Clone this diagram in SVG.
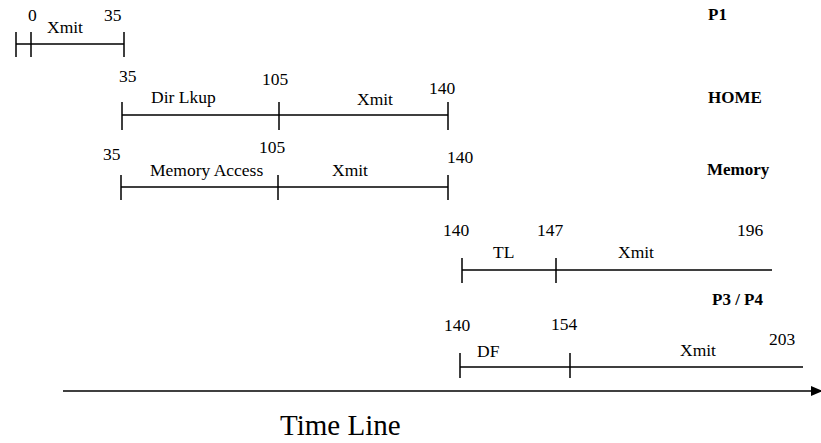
<svg xmlns="http://www.w3.org/2000/svg" width="821" height="443" viewBox="0 0 821 443">
  <style>
    .seg { stroke: #000; stroke-width: 1.5; fill: none; }
    .t { font-family: "Liberation Serif", "Times New Roman", serif; font-size: 17.5px; fill: #000; }
    .lbl { font-family: "Liberation Serif", "Times New Roman", serif; font-size: 17px; font-weight: bold; fill: #000; }
    .big { font-family: "Liberation Serif", "Times New Roman", serif; font-size: 29px; fill: #000; }
  </style>
  <defs>
    <marker id="arrow" markerWidth="12" markerHeight="10" refX="11" refY="5" orient="auto" markerUnits="userSpaceOnUse">
      <path d="M0,0 L12,5 L0,10 Z" fill="#000"/>
    </marker>
  </defs>
  <rect width="821" height="443" fill="#fff"/>

  <!-- P1 row -->
  <g id="p1">
    <path class="seg" d="M16,44 H124 M16,32 V57 M31,32 V57 M124,32 V57"/>
    <text class="t" x="28" y="21">0</text>
    <text class="t" x="47" y="33">Xmit</text>
    <text class="t" x="104" y="21">35</text>
    <text class="lbl" x="708" y="20">P1</text>
  </g>

  <!-- HOME row -->
  <g id="home">
    <path class="seg" d="M122,115 H448 M122,102 V130 M279,102 V130 M448,102 V130"/>
    <text class="t" x="119" y="82">35</text>
    <text class="t" x="151" y="103">Dir Lkup</text>
    <text class="t" x="262" y="85">105</text>
    <text class="t" x="357" y="105">Xmit</text>
    <text class="t" x="429" y="94">140</text>
    <text class="lbl" x="708" y="103">HOME</text>
  </g>

  <!-- Memory row -->
  <g id="memory">
    <path class="seg" d="M121,187 H448 M121,175 V200 M278,175 V200 M448,175 V200"/>
    <text class="t" x="103" y="160">35</text>
    <text class="t" x="150" y="176">Memory Access</text>
    <text class="t" x="259" y="153">105</text>
    <text class="t" x="332" y="176">Xmit</text>
    <text class="t" x="447" y="163">140</text>
    <text class="lbl" x="707" y="175">Memory</text>
  </g>

  <!-- P3 / P4 : TL row -->
  <g id="p3p4-tl">
    <path class="seg" d="M462,270 H772 M462,258 V283 M556,258 V283"/>
    <text class="t" x="443" y="236">140</text>
    <text class="t" x="537" y="236">147</text>
    <text class="t" x="737" y="236">196</text>
    <text class="t" x="493" y="258">TL</text>
    <text class="t" x="618" y="258">Xmit</text>
    <text class="lbl" x="712" y="305">P3 / P4</text>
  </g>

  <!-- P3 / P4 : DF row -->
  <g id="p3p4-df">
    <path class="seg" d="M460,367 H803 M460,353 V378 M570,353 V378"/>
    <text class="t" x="444" y="331">140</text>
    <text class="t" x="551" y="330">154</text>
    <text class="t" x="769" y="345">203</text>
    <text class="t" x="477" y="357">DF</text>
    <text class="t" x="680" y="356">Xmit</text>
  </g>

  <!-- time axis -->
  <g id="connectors">
    <line class="seg" x1="63" y1="391" x2="822" y2="391" stroke-width="2" marker-end="url(#arrow)"/>
  </g>
  <text class="big" x="280" y="435">Time Line</text>
</svg>
